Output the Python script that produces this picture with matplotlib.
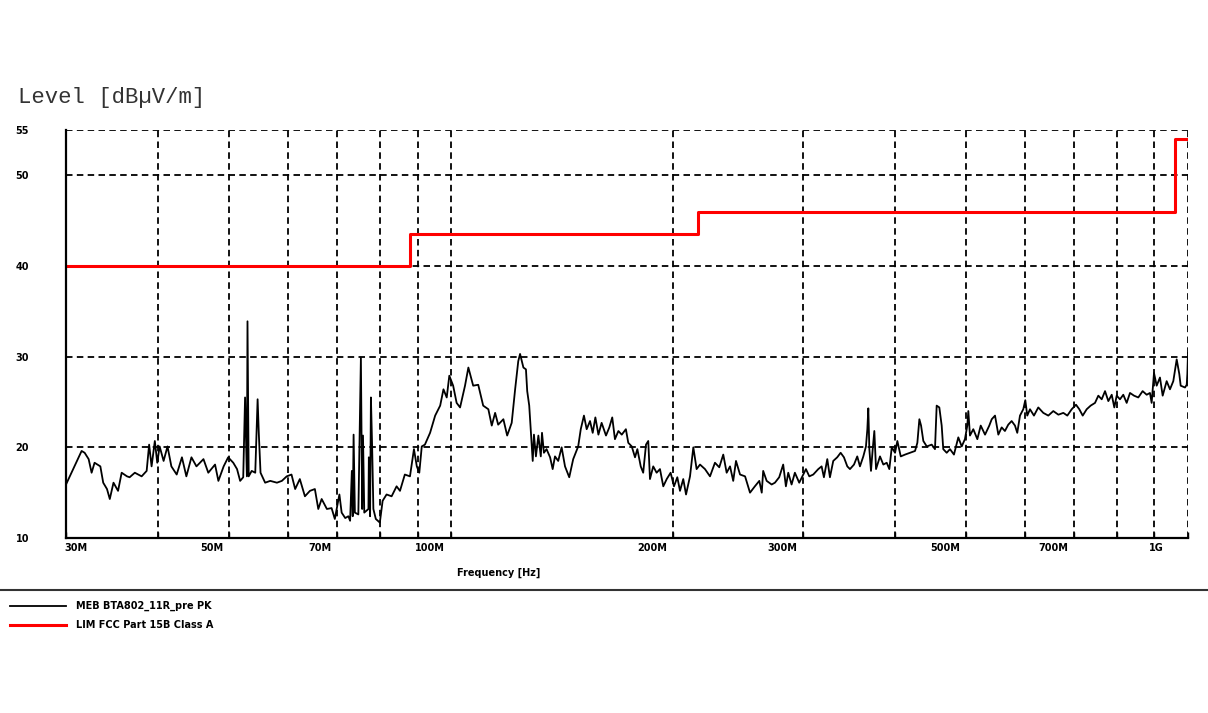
import matplotlib.pyplot as plt
from matplotlib.lines import Line2D
from matplotlib.ticker import NullLocator
from matplotlib.transforms import blended_transform_factory, ScaledTranslation

freq_mhz = [
    30.0, 31.5, 31.8, 32.2, 32.5, 32.8, 33.4, 33.7, 34.1, 34.4, 34.8, 35.3, 35.7, 36.3, 36.6,
    37.2, 38.0, 38.6, 38.9, 39.2, 39.6, 39.9, 40.2, 40.7, 41.2, 41.7, 42.4, 43.1, 43.7, 44.4,
    45.1, 46.1, 46.8, 47.8, 48.3, 49.1, 49.8, 50.6, 51.2, 51.7, 52.2, 52.5, 52.8, 52.9, 53.1,
    53.6, 54.2, 54.4, 54.6, 54.8, 55.1, 55.9, 56.8, 58.0, 58.9, 59.8, 60.7, 61.4, 62.3,
    63.3, 64.3, 65.3, 66.0, 66.7, 67.8, 68.8, 69.5, 70.5, 71.0, 71.8, 72.5, 72.9, 73.3, 73.5,
    73.7, 74.0, 74.8, 75.4, 75.7, 75.9, 76.2, 77.2, 77.3, 77.6, 77.8, 78.1, 78.4, 79.0, 80.0,
    80.7, 81.7, 83.0, 84.3, 85.2, 86.5, 87.9, 89.0, 89.8, 90.5, 91.2, 92.1, 93.6, 95.1, 96.6,
    97.6, 98.6, 99.4, 100.6, 101.7, 102.8, 104.4, 105.5, 107.1, 108.8, 110.5, 112.3, 113.5,
    114.7, 115.8, 117.7, 119.1, 120.8, 122.1, 123.3,
    124.0, 125.3, 126.3, 126.8, 127.6, 128.3, 129.0, 129.5, 130.3, 131.3, 132.3, 132.8, 133.6,
    134.7, 136.2, 137.3, 138.3, 139.7, 141.2, 142.7, 144.6, 146.4, 148.7, 149.9, 151.4, 152.7,
    154.3, 155.6, 156.9, 158.4, 160.0, 162.2, 163.9, 165.4, 166.8, 168.6, 170.4, 172.6, 173.9,
    175.8, 177.6, 178.9, 180.8, 182.2, 183.8, 185.1, 186.1, 188.0, 190.0, 192.0, 194.0, 196.1,
    198.5, 200.6, 202.7, 204.4, 206.5, 208.3, 210.9, 213.1, 215.3, 217.6, 221.0, 224.5, 228.0,
    231.1, 234.0, 236.5, 239.0, 241.4, 243.5, 246.6, 250.5, 254.4, 258.3, 261.9,
    263.9, 265.1, 268.0, 272.2, 275.0, 278.7, 282.2, 284.6, 286.7, 289.7, 292.7, 296.7, 300.5,
    303.0, 306.2, 310.0, 314.9, 318.2, 320.5, 323.9, 326.6, 330.0, 334.1, 337.7, 341.2, 344.8,
    347.7, 352.1, 355.7, 358.7, 362.5, 365.5, 367.1, 368.2, 369.4, 371.3, 373.3, 375.2, 377.2,
    381.9, 385.9, 390.0, 393.2, 396.2, 400.3, 403.2, 407.5, 413.0, 419.5, 426.1, 429.2, 431.9,
    434.2, 437.3, 442.0, 448.9, 453.5, 455.9, 459.7, 463.1, 465.4, 470.4, 475.3, 481.2, 487.8,
    493.0, 498.0, 501.7, 503.3, 505.9, 511.2, 517.7, 523.2, 530.3, 537.4,
    541.5, 547.1, 552.8, 558.6, 564.3, 570.2, 576.3, 582.3, 586.5, 591.5, 597.6, 601.4, 605.1,
    610.3, 617.9, 626.3, 636.2, 646.2, 656.4, 666.9, 677.3, 685.8, 695.2, 704.7, 712.0, 719.6,
    728.6, 737.7, 747.8, 755.6, 763.6, 771.6, 779.6, 787.9, 794.3, 800.2, 808.5, 816.9, 825.6,
    834.2, 844.7, 856.1, 867.8, 878.9, 887.9, 892.6, 899.2, 906.7, 916.1, 923.9, 935.5, 945.2,
    955.1, 965.3, 973.1, 977.4, 990.7, 996.0, 998.0, 1000.0,
]
level_dbuv = [
    15.9, 19.6, 19.4, 18.7, 17.2, 18.3, 17.9, 16.1, 15.4, 14.3, 16.1, 15.2, 17.2, 16.8, 16.7,
    17.2, 16.8, 17.4, 20.3, 17.9, 20.7, 18.3, 20.1, 18.5, 20.1, 17.9, 17.0, 18.9, 16.8, 18.9,
    17.9, 18.7, 17.2, 18.1, 16.3, 17.9, 18.9, 18.3, 17.6, 16.3, 16.7, 25.5, 16.8, 33.9, 16.8,
    17.4, 17.2, 21.1, 25.3, 21.6, 17.2, 16.1, 16.3, 16.1, 16.3, 16.8, 17.0, 15.4, 16.5,
    14.6, 15.2, 15.4, 13.2, 14.3, 13.2, 13.3, 12.1, 14.8, 12.8, 12.2, 12.4, 11.9, 17.4, 12.4,
    21.4, 12.8, 12.6, 29.9, 13.2, 21.3, 12.8, 13.2, 18.9, 12.4, 25.5, 20.0, 13.2, 12.1, 11.7,
    14.1, 14.8, 14.6, 15.7, 15.2, 17.0, 16.8, 19.8, 17.9, 17.2, 20.1, 20.3, 21.6, 23.5, 24.6,
    26.4, 25.5, 27.9, 26.8, 24.9, 24.4, 26.8, 28.8, 26.8, 26.9, 24.6, 24.2, 22.4,
    23.8, 22.5, 23.1, 21.3, 22.7, 26.4, 29.5,
    30.3, 28.8, 28.6, 26.2, 24.6, 21.6, 18.5, 21.4, 19.0, 21.3, 19.0, 21.6, 19.4,
    19.8, 18.9, 17.6, 19.0, 18.5, 20.0, 17.9, 16.7, 18.7, 20.1, 22.0, 23.5, 22.0,
    22.9, 21.6, 23.3, 21.4, 22.7, 21.3, 22.2, 23.3, 20.9, 21.8, 21.4, 22.0, 20.5,
    20.1, 18.9, 19.8, 17.9, 17.2, 20.3, 20.7, 16.5, 17.9, 17.2, 17.6, 15.7, 16.5,
    17.2, 15.7, 16.7, 15.2, 16.5, 14.8, 16.8, 20.0, 17.6, 18.1, 17.6, 16.8, 18.3,
    17.8, 19.2, 17.2, 17.9, 16.3, 18.5, 17.0, 16.8, 15.0, 15.7, 16.3,
    15.0, 17.4, 16.3, 15.9, 16.1, 16.7, 18.1, 15.7, 17.2, 15.9, 17.2, 16.1, 17.0,
    17.6, 16.8, 17.0, 17.6, 17.9, 16.7, 18.7, 16.7, 18.5, 18.9, 19.4, 18.9, 17.9,
    17.6, 18.1, 19.0, 17.9, 19.0, 20.1, 22.0, 24.3, 19.8, 17.4, 19.8, 21.8, 17.6,
    19.0, 18.1, 18.3, 17.6, 20.0, 19.4, 20.7, 19.0, 19.2, 19.4, 19.6, 20.5, 23.1,
    22.4, 20.7, 20.1, 20.3, 19.8, 24.6, 24.4, 22.4, 19.8, 19.4, 19.8, 19.2, 21.1,
    20.1, 20.9, 22.4, 24.0, 21.3, 22.0, 20.9, 22.4, 21.4, 22.4,
    23.1, 23.5, 21.4, 22.2, 21.8, 22.5, 22.9, 22.4, 21.6, 23.5, 24.2, 25.2, 23.5,
    24.2, 23.5, 24.4, 23.8, 23.5, 24.0, 23.6, 23.8, 23.5, 24.2, 24.7, 24.2, 23.5,
    24.2, 24.6, 24.9, 25.7, 25.3, 26.2, 25.1, 25.8, 24.4, 25.7, 25.3, 25.8, 24.9,
    26.0, 25.7, 25.5, 26.2, 25.8, 26.0, 24.9, 28.2, 26.8, 27.7, 25.7, 27.3, 26.4,
    27.3, 29.7, 28.1, 26.8, 26.6, 26.9, 28.1, 30.4,
]

# FCC Part 15B Class A limit (step edges)
limit_freq = [30, 88, 216, 960, 1000]
limit_level = [40, 43.5, 46, 54, 54]

grid_freqs = [30, 40, 50, 60, 70, 80, 90, 100, 200, 300, 400, 500, 600, 700, 800, 900, 1000]
label_freqs = [30, 50, 70, 100, 200, 300, 500, 700, 1000]
label_texts = ['30M', '50M', '70M', '100M', '200M', '300M', '500M', '700M', '1G']
y_ticks = [10, 20, 30, 40, 50, 55]

W, H = 1208, 713
fig = plt.figure(figsize=(W / 100, H / 100), dpi=100)
ax = fig.add_axes([66 / W, 1 - 538 / H, (1188 - 66) / W, (538 - 130) / H])

meas, = ax.plot(freq_mhz, level_dbuv, color='black', lw=1.3, label='MEB BTA802_11R_pre PK')
lim, = ax.plot(limit_freq, limit_level, color='#ff0000', lw=2.2, drawstyle='steps-post',
               label='LIM FCC Part 15B Class A')

ax.set_xscale('log')
ax.set_xlim(30, 1000)
ax.set_ylim(10, 55)
ax.set_xticks(grid_freqs)
ax.xaxis.set_minor_locator(NullLocator())
ax.tick_params(axis='x', direction='in', length=4, width=1, labelbottom=False)
ax.set_yticks(y_ticks)
ax.set_yticklabels([str(v) for v in y_ticks], fontsize=7, fontweight='bold')
ax.tick_params(axis='y', length=0, pad=26.5)

ax.set_axisbelow(True)
ax.grid(True, color='black', linestyle=(0, (3.6, 2.4)), linewidth=1.3)
for side in ['top', 'right']:
    ax.spines[side].set_visible(False)
for side in ['left', 'bottom']:
    ax.spines[side].set_linewidth(1.6)

# frequency labels sit a bit left of their tick, like the original report
for f, t in zip(label_freqs, label_texts):
    if f == 30:
        ha, dx = 'left', -2
    elif f == 1000:
        ha, dx = 'right', -24
    else:
        ha, dx = 'right', -6
    tr = blended_transform_factory(ax.transData, ax.transAxes) + \
        ScaledTranslation(dx / 100, -10 / 100, fig.dpi_scale_trans)
    ax.text(f, 0, t, transform=tr, ha=ha, va='center', fontsize=7, fontweight='bold')

fig.text(499 / W, 1 - 573 / H, 'Frequency [Hz]', ha='center', va='center',
         fontsize=7, fontweight='bold')
fig.text(18 / W, 1 - 98 / H, 'Level [dB\u00b5V/m]', ha='left', va='center',
         fontfamily='Liberation Mono', fontsize=16, color='#333333')

fig.add_artist(Line2D([0, 1], [1 - 590 / H, 1 - 590 / H], transform=fig.transFigure,
                      color='#333333', lw=1.5))
fig.legend(handles=[meas, lim], loc='upper left', bbox_to_anchor=(10 / W, 1 - 601 / H),
           frameon=False, prop={'weight': 'bold', 'size': 7}, borderpad=0, borderaxespad=0,
           handlelength=5.8, handletextpad=1.0, labelspacing=0.9)

fig.savefig('out.png', dpi=100, facecolor='white')
